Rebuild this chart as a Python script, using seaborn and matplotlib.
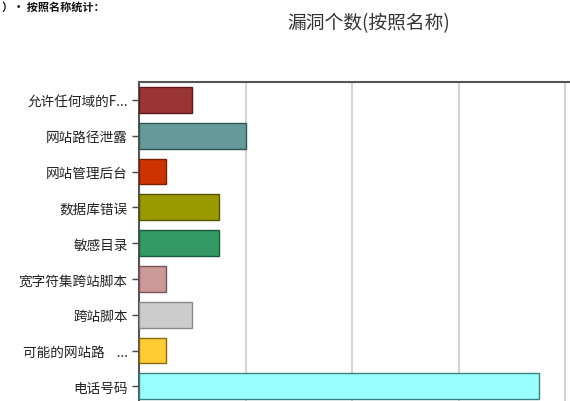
import matplotlib
matplotlib.use("Agg")
import matplotlib.pyplot as plt
import seaborn as sns
import pandas as pd

categories = ["允许任何域的F...", "网站路径泄露", "网站管理后台", "数据库错误", "敏感目录",
              "宽字符集跨站脚本", "跨站脚本", "可能的网站路    ...", "电话号码"]
counts = [2, 4, 1, 3, 3, 1, 2, 1, 15]
bar_colors = ["#9B3535", "#669999", "#CC3300", "#999900", "#339966",
              "#CC9999", "#CCCCCC", "#FFCC33", "#99FFFF"]
edge_colors = ["#5a1a1a", "#2f5555", "#7a1f00", "#555500", "#1d5a3a",
               "#7a5555", "#888888", "#8a6a10", "#3a8080"]
title = "漏洞个数(按照名称)"
top_note = "）• 按照名称统计："

sns.set_theme(style="white")
plt.rcParams['font.family'] = ['Noto Sans CJK SC', 'DejaVu Sans']

df = pd.DataFrame({"name": categories, "count": counts})

W, H = 570, 402
fig = plt.figure(figsize=(W / 100, H / 100), dpi=100)
left = 139 / W
top = 1 - 83 / H
height = (9 * 35.8) / H
width = (672 - 139) / W
ax = fig.add_axes([left, top - height, width, height])

sns.barplot(data=df, y="name", x="count", hue="name", palette=bar_colors,
            saturation=1, legend=False, width=0.72, ax=ax, zorder=3)
for patch, ec in zip(ax.patches, edge_colors):
    patch.set_edgecolor(ec)
    patch.set_linewidth(1.0)

ax.set_xlim(0, 20)
ax.set_ylim(8.5, -0.5)
ax.set_xticks([0, 4, 8, 12, 16, 20])
ax.xaxis.grid(True, color="#cccccc", linewidth=1.2, zorder=0)
ax.yaxis.grid(False)
ax.set_xlabel("")
ax.set_ylabel("")
ax.tick_params(axis="y", left=True, length=5, width=1, color="#444444",
               labelsize=9.8, labelcolor="#222222", pad=3)
ax.tick_params(axis="x", bottom=False, labelbottom=False)
for s in ["left", "top"]:
    ax.spines[s].set_color("#555555")
    ax.spines[s].set_linewidth(1.5)
ax.spines["right"].set_visible(False)
ax.spines["bottom"].set_visible(False)

fig.text(369 / W, 1 - 24 / H, title, ha="center", va="center",
         fontsize=13.5, color="#333333")
fig.text(2 / W, 1 - 1 / H, top_note, ha="left", va="top",
         fontsize=8, color="#111111", fontweight="bold")

fig.savefig("out.png", dpi=100)
